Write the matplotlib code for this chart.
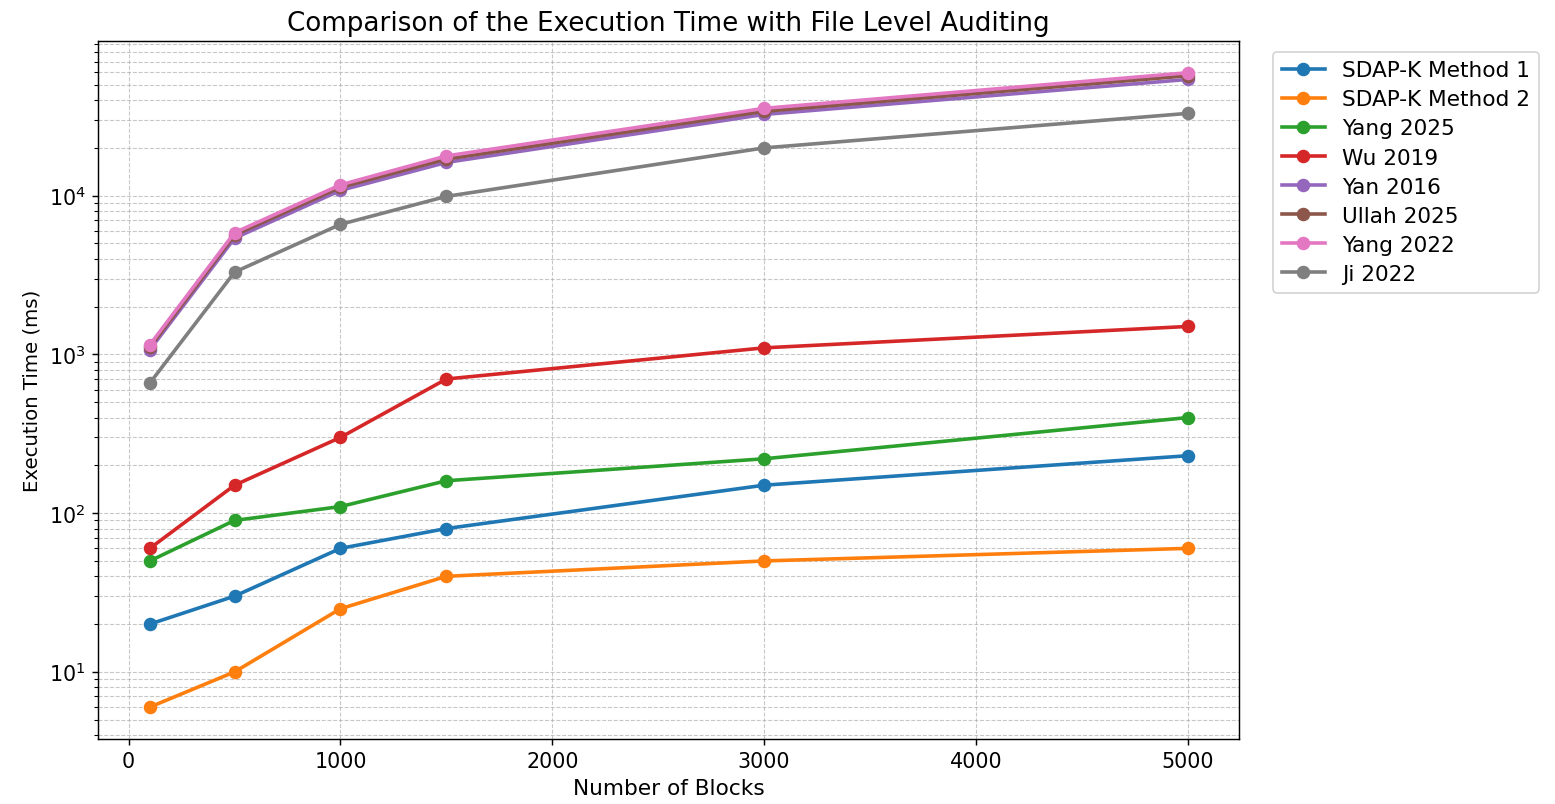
import matplotlib
matplotlib.use("Agg")
import matplotlib.pyplot as plt

# Number of blocks on the x axis
blocks = [100, 500, 1000, 1500, 3000, 5000]

# Execution time (ms) per method
sdap_k1 = [20, 30, 60, 80, 150, 230]
sdap_k2 = [6, 10, 25, 40, 50, 60]
yang_2025 = [50, 90, 110, 160, 220, 400]
wu_2019 = [60, 150, 300, 700, 1100, 1500]
yan_2016 = [1070, 5400, 10800, 16200, 32500, 54000]
ullah_2025 = [1110, 5650, 11300, 17000, 34000, 57000]
yang_2022 = [1150, 5850, 11700, 17800, 35500, 59500]
ji_2022 = [660, 3300, 6600, 9900, 20000, 33000]

labels = ["SDAP-K Method 1", "SDAP-K Method 2", "Yang 2025", "Wu 2019",
          "Yan 2016", "Ullah 2025", "Yang 2022", "Ji 2022"]
series = [sdap_k1, sdap_k2, yang_2025, wu_2019,
          yan_2016, ullah_2025, yang_2022, ji_2022]

fig, ax = plt.subplots(figsize=(12, 6.21), dpi=129.6)
fig.subplots_adjust(left=0.063, right=0.797, top=0.948, bottom=0.081)

for lbl, vals in zip(labels, series):
    ax.plot(blocks, vals, marker='o', linewidth=2, markersize=6.5, label=lbl)

ax.set_yscale('log')
ax.set_title("Comparison of the Execution Time with File Level Auditing", fontsize=14.5)
ax.set_xlabel("Number of Blocks", fontsize=12)
ax.set_ylabel("Execution Time (ms)", fontsize=11)
ax.tick_params(labelsize=11.5)
ax.grid(True, which='both', linestyle='--', linewidth=0.6, alpha=0.7)
ax.legend(loc='upper left', bbox_to_anchor=(1.02, 1), fontsize=12, labelspacing=0.42)

fig.savefig("out.png")
